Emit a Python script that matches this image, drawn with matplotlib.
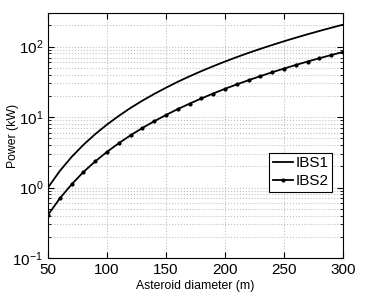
import matplotlib
matplotlib.use('Agg')
import matplotlib.pyplot as plt
from matplotlib.ticker import LogLocator, NullFormatter

plt.rcParams['font.family'] = ['Liberation Sans', 'DejaVu Sans']

diameter = [50, 60, 70, 80, 90, 100, 110, 120, 130, 140, 150, 160, 170,
            180, 190, 200, 210, 220, 230, 240, 250, 260, 270, 280, 290, 300]
ibs1 = [1.0, 1.72, 2.72, 4.04, 5.73, 7.83, 10.4, 13.5, 17.1, 21.3, 26.1,
        31.7, 37.9, 44.9, 52.7, 61.4, 71.0, 81.5, 93.0, 105.5, 119.1,
        133.8, 149.7, 166.8, 185.1, 204.7]
ibs2 = [0.41, 0.70, 1.11, 1.66, 2.35, 3.21, 4.26, 5.52, 7.00, 8.73, 10.7,
        13.0, 15.5, 18.4, 21.6, 25.2, 29.1, 33.4, 38.1, 43.3, 48.8, 54.9,
        61.4, 68.4, 75.9, 83.9]

fig = plt.figure(figsize=(3.82, 3.02), dpi=100)
ax = fig.add_axes([0.1257, 0.1457, 0.7723, 0.8113])

ax.plot(diameter, ibs1, '-', color='black', lw=1.3, label='IBS1')
ax.plot(diameter, ibs2, '-', color='black', lw=1.3, marker='.', ms=4, label='IBS2')

ax.set_yscale('log')
ax.set_xlim(50, 300)
ax.set_ylim(0.1, 300)
ax.set_xticks([50, 100, 150, 200, 250, 300])
ax.yaxis.set_major_locator(LogLocator(base=10, numticks=10))
ax.yaxis.set_minor_locator(LogLocator(base=10, subs=range(2, 10), numticks=10))
ax.yaxis.set_minor_formatter(NullFormatter())

ax.grid(True, which='major', axis='both', ls=':', color='#c0c0c0', lw=0.8)
ax.grid(True, which='minor', axis='y', ls=':', color='#c0c0c0', lw=0.8)
ax.tick_params(which='both', direction='in', top=True, right=True, labelsize=11)
ax.tick_params(which='major', length=4)
ax.tick_params(which='minor', length=2)
for s in ax.spines.values():
    s.set_linewidth(0.8)

ax.set_xlabel('Asteroid diameter (m)', fontsize=8.8, labelpad=2)
ax.set_ylabel('Power (kW)', fontsize=8.8)
ax.yaxis.set_label_coords(-0.098, 0.5)

leg = ax.legend(loc='upper right', bbox_to_anchor=(0.963, 0.43), fontsize=11,
                fancybox=False, edgecolor='black', framealpha=1,
                handlelength=1.3, handletextpad=0.15, borderpad=0.25,
                labelspacing=0.25, borderaxespad=0)
leg.get_frame().set_linewidth(0.8)

fig.savefig('out.png', dpi=100)
